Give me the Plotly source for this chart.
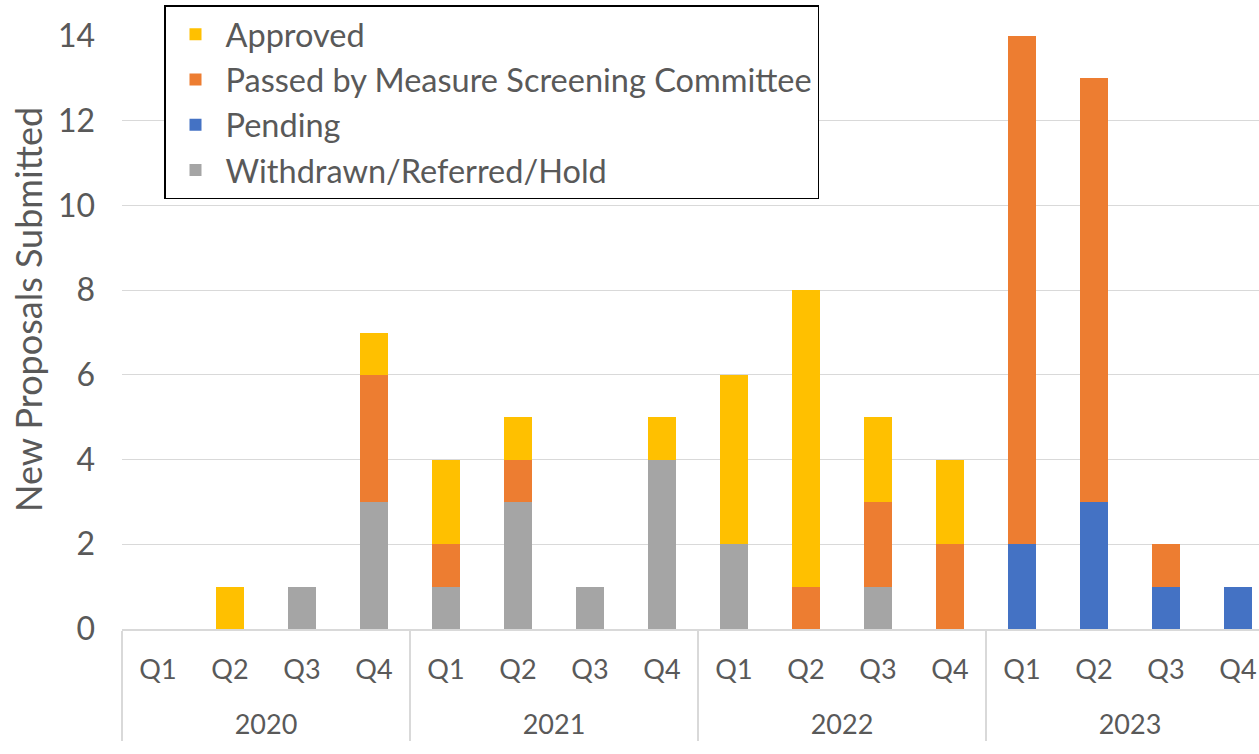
import plotly.graph_objects as go

years = ["2020"] * 4 + ["2021"] * 4 + ["2022"] * 4 + ["2023"] * 4
quarters = ["Q1", "Q2", "Q3", "Q4"] * 4

withdrawn = [0, 0, 1, 3, 1, 3, 1, 4, 2, 0, 1, 0, 0, 0, 0, 0]
pending = [0, 0, 0, 0, 0, 0, 0, 0, 0, 0, 0, 0, 2, 3, 1, 1]
passed = [0, 0, 0, 3, 1, 1, 0, 0, 0, 1, 2, 2, 12, 10, 1, 0]
approved = [0, 1, 0, 1, 2, 1, 0, 1, 4, 7, 2, 2, 0, 0, 0, 0]

y_ticks = [0, 2, 4, 6, 8, 10, 12, 14]

# stacking order bottom -> top, with legend rank (top of legend first)
series = [
    ("Withdrawn/Referred/Hold", withdrawn, "#A5A5A5", 4),
    ("Pending", pending, "#4472C4", 3),
    ("Passed by Measure Screening Committee", passed, "#ED7D31", 2),
    ("Approved", approved, "#FFC000", 1),
]

FONT = "Lato"
TXT = "#595959"

W, H = 1274, 754
ML, MR, MT, MB = 122, 0, 36, 125
plot_w = W - ML - MR
plot_h = H - MT - MB

# first-level labels carry an extra blank line to push the year row lower
q_labels = [q + "<br><span style='font-size:32px'>\u00a0</span>" for q in quarters]

fig = go.Figure()
for name, vals, color, rank in series:
    fig.add_trace(go.Bar(
        x=[years, q_labels],
        y=vals,
        name=name,
        marker=dict(color=color, line=dict(width=0)),
        legendgroup=name,
        legendrank=rank,
    ))

fig.update_layout(
    barmode="stack",
    bargap=0.6,
    width=W,
    height=H,
    margin=dict(l=ML, r=MR, t=MT, b=MB),
    plot_bgcolor="white",
    paper_bgcolor="white",
    font=dict(family=FONT, size=28, color=TXT),
    legend=dict(
        traceorder="grouped",
        tracegroupgap=0,
        itemwidth=50,
        entrywidth=626,
        x=(164 - ML) / plot_w, y=1 + (MT - 5) / plot_h,
        xanchor="left", yanchor="top",
        bgcolor="white",
        bordercolor="black",
        borderwidth=1.5,
        font=dict(family=FONT, size=32.5, color=TXT),
    ),
    showlegend=True,
    annotations=[dict(
        text="New Proposals Submitted",
        textangle=-90,
        xref="paper", yref="paper",
        x=-(ML - 28) / plot_w, y=(629 - 310) / plot_h,
        xanchor="center", yanchor="middle",
        showarrow=False,
        font=dict(family=FONT, size=36, color=TXT),
    )],
)
fig.update_xaxes(
    type="multicategory",
    showline=True,
    linecolor="#D9D9D9",
    linewidth=1.5,
    showgrid=False,
    ticks="",
    showdividers=True,
    dividercolor="#D9D9D9",
    dividerwidth=1.5,
    ticklabelstandoff=16,
    tickfont=dict(family=FONT, size=27, color=TXT),
)
fig.update_yaxes(
    range=[0, 14],
    tickvals=y_ticks,
    showgrid=True,
    gridcolor="#D9D9D9",
    gridwidth=1,
    zeroline=False,
    showline=False,
    ticks="",
    ticklabelstandoff=26,
    tickfont=dict(family=FONT, size=32, color=TXT),
)

fig.write_html(
    "out.html",
    config={"displayModeBar": False},
    post_script="document.body.style.margin='0';document.body.style.overflow='hidden';",
)
